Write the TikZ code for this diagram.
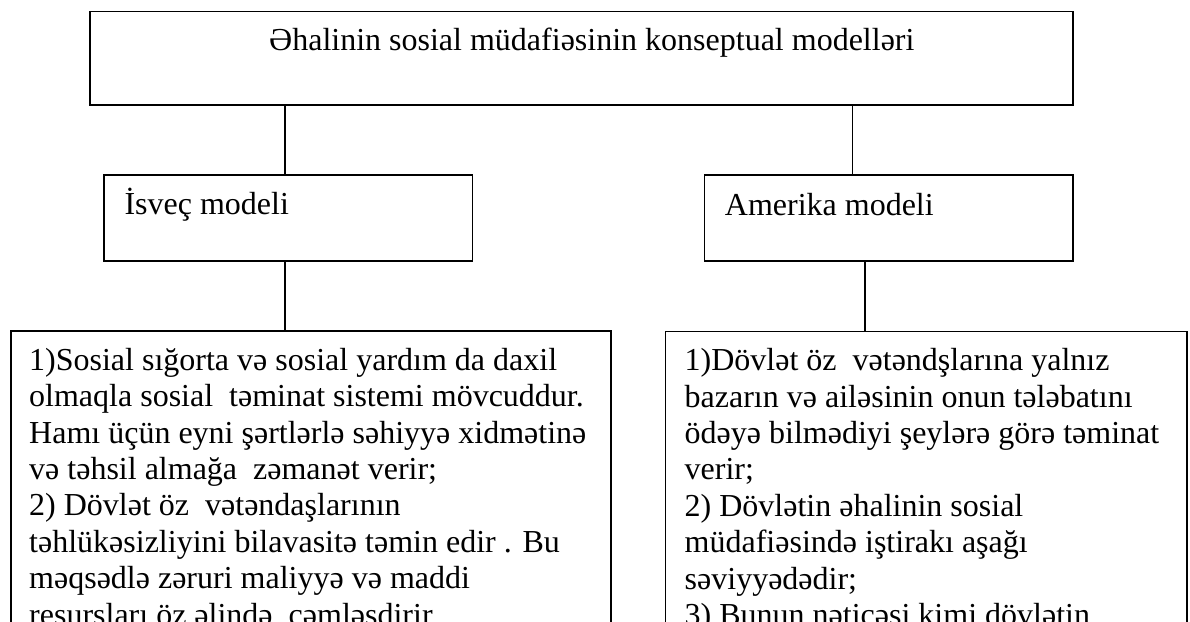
\documentclass[tikz,border=0pt]{standalone}
\usepackage{fontspec}
\setmainfont{Liberation Serif}
\begin{document}
\begin{tikzpicture}[x=1pt,y=-1pt,
  frame/.style={draw=black, line width=1.6pt, inner sep=0pt, anchor=north west},
  txt/.style={inner sep=0pt, font=\fontsize{32}{36.4}\selectfont, align=left},
  link/.style={draw=black, line width=1.6pt}]
\useasboundingbox (0,0) rectangle (1190,621);
\clip (0,0) rectangle (1190,621);
\fill[white] (0,0) rectangle (1190,621);

% boxes
\node[frame, minimum width=983pt, minimum height=93.5pt] (root) at (89,10.5) {};
\node[frame, minimum width=368.2pt, minimum height=86pt] (sweden) at (103.3,174) {};
\node[frame, minimum width=368.3pt, minimum height=86pt] (usa) at (703.7,174) {};
\node[frame, minimum width=600pt, minimum height=400pt] (swedtext) at (10,330) {};
\node[frame, minimum width=521.5pt, minimum height=400pt] (usatext) at (664.5,330.5) {};

% labels
\node[txt, anchor=base west] (rootlabel) at ([shift={(180pt,-39.5pt)}]root.north west)
  {Əhalinin sosial müdafiəsinin konseptual modelləri};
\node[txt, anchor=base west] (swedenlabel) at ([shift={(21pt,-40pt)}]sweden.north west)
  {İsveç modeli};
\node[txt, anchor=base west] (usalabel) at ([shift={(21pt,-41pt)}]usa.north west)
  {Amerika modeli};

\node[txt, anchor=north west] (swedlines) at ([shift={(19pt,-15pt)}]swedtext.north west)
  {\rule{0pt}{25pt}1)Sosial sığorta və sosial yardım da daxil\\
   olmaqla sosial\ \ təminat sistemi mövcuddur.\\
   Hamı üçün eyni şərtlərlə səhiyyə xidmətinə\\
   və təhsil almağa\ \ zəmanət verir;\\
   2) Dövlət öz\ \ vətəndaşlarının\\
   təhlükəsizliyini bilavasitə təmin edir . Bu\\
   məqsədlə zəruri maliyyə və maddi\\
   resursları öz əlində\ \ cəmləşdirir};
\node[txt, anchor=north west] (usalines) at ([shift={(20pt,-15pt)}]usatext.north west)
  {\rule{0pt}{25pt}1)Dövlət öz\ \ vətəndşlarına yalnız\\
   bazarın və ailəsinin onun tələbatını\\
   ödəyə bilmədiyi şeylərə görə təminat\\
   verir;\\
   2) Dövlətin əhalinin sosial\\
   müdafiəsində iştirakı aşağı\\
   səviyyədədir;\\
   3) Bunun nəticəsi kimi dövlətin};

% connectors
\draw[link] ([xshift=-3.1pt]sweden.north) -- ([xshift=-3.1pt]sweden.north |- root.south);
\draw[link] ([xshift=-36pt]usa.north) -- ([xshift=-36pt]usa.north |- root.south);
\draw[link] ([xshift=-3.1pt]sweden.south) -- ([xshift=-3.1pt]sweden.south |- swedtext.north);
\draw[link] ([xshift=-23.8pt]usa.south) -- ([xshift=-23.8pt]usa.south |- usatext.north);
\end{tikzpicture}
\end{document}
